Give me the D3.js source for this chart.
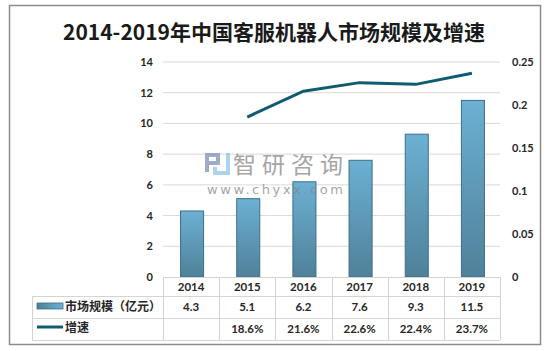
<!DOCTYPE html>
<html><head><meta charset="utf-8">
<script src="https://cdn.jsdelivr.net/npm/d3@7/dist/d3.min.js"></script>
<style>body{margin:0;background:#fff}svg{display:block}</style>
</head><body><svg id="c" width="549" height="351"></svg>
<script>
const categories = ["2014","2015","2016","2017","2018","2019"];
const marketSize = [4.3,5.1,6.2,7.6,9.3,11.5];
const growth = [null,0.186,0.216,0.226,0.224,0.237];
const growthLabels = ["","18.6%","21.6%","22.6%","22.4%","23.7%"];
const leftTicks = [0,2,4,6,8,10,12,14];
const rightTicks = [0,0.05,0.1,0.15,0.2,0.25];
const seriesNames = ["市场规模（亿元）","增速"];
const title = "2014-2019年中国客服机器人市场规模及增速";

const svg = d3.select("#c");
const F = "Lato, 'Noto Sans CJK SC', sans-serif";
const plotL = 163, plotR = 500, plotT = 62, plotB = 277;

const defs = svg.append("defs");
const g1 = defs.append("linearGradient").attr("id","bg").attr("x1",0).attr("y1",0).attr("x2",0).attr("y2",1);
g1.append("stop").attr("offset","0%").attr("stop-color","#6cb0d3");
g1.append("stop").attr("offset","100%").attr("stop-color","#4f8199");
const g2 = defs.append("linearGradient").attr("id","bgh").attr("x1",0).attr("y1",0).attr("x2",1).attr("y2",0);
g2.append("stop").attr("offset","0%").attr("stop-color","#4f8199");
g2.append("stop").attr("offset","100%").attr("stop-color","#6cb0d3");

// outer border
svg.append("rect").attr("x",9.5).attr("y",5.5).attr("width",531).attr("height",339)
  .attr("fill","#fff").attr("stroke","#8c8c8c").attr("stroke-width",1.5);

svg.append("text").attr("x",274).attr("y",40).attr("text-anchor","middle")
  .attr("font-family","'Noto Sans CJK SC', sans-serif").attr("font-weight","bold")
  .attr("font-size",21).attr("fill","#1a1a1a").text(title);

const x = d3.scaleBand().domain(categories).range([plotL,plotR]).padding(0);
const y = d3.scaleLinear().domain([0,14]).range([plotB,plotT]);
const y2 = d3.scaleLinear().domain([0,0.25]).range([plotB,plotT]);

// gridlines
svg.append("g").selectAll("line").data(leftTicks.filter(d=>d>0)).join("line")
  .attr("x1",plotL).attr("x2",plotR).attr("y1",d=>y(d)).attr("y2",d=>y(d))
  .attr("stroke","#d9d9d9").attr("stroke-width",1);

// left axis
const la = svg.append("g").attr("transform",`translate(${plotL},0)`)
  .call(d3.axisLeft(y).tickValues(leftTicks).tickSize(0).tickPadding(10));
la.select(".domain").remove();
la.selectAll("text").attr("font-family",F).attr("font-size",11).attr("font-weight","bold").attr("fill","#262626");

const ra = svg.append("g").attr("transform",`translate(${plotR},0)`)
  .call(d3.axisRight(y2).tickValues(rightTicks).tickSize(0).tickPadding(12).tickFormat(d=>String(+d.toFixed(2))));
ra.select(".domain").remove();
ra.selectAll("text").attr("font-family",F).attr("font-size",11).attr("font-weight","bold").attr("fill","#262626");

// bars
const bw = x.bandwidth()*0.41;
svg.append("g").selectAll("rect").data(marketSize).join("rect")
  .attr("x",(d,i)=>x(categories[i])+x.bandwidth()/2-bw/2+1)
  .attr("y",d=>y(d)).attr("width",bw).attr("height",d=>plotB-y(d))
  .attr("fill","url(#bg)").attr("stroke","#3d6e87").attr("stroke-width",1);

// watermark
const wm = svg.append("g").attr("opacity",0.75);
const ic = [
  [205,153,15,4,"#7f8fb8"],[216,153,4,12,"#7f8fb8"],[205,161,15,4,"#7f8fb8"],[205,153,4,19,"#7f8fb8"],
  [226,153,4,22,"#8ec6e8"],[213,171,17,4,"#8ec6e8"],[213,167,4,8,"#8ec6e8"]];
wm.selectAll("rect").data(ic).join("rect").attr("x",d=>d[0]).attr("y",d=>d[1]).attr("width",d=>d[2]).attr("height",d=>d[3]).attr("fill",d=>d[4]);
wm.append("text").attr("x",233).attr("y",173).attr("font-family","'Noto Sans CJK SC', sans-serif")
  .attr("font-size",23).attr("fill","#888").attr("textLength",110).text("智研咨询");
wm.append("text").attr("x",207).attr("y",194).attr("font-family","'DejaVu Sans', sans-serif")
  .attr("font-size",13).attr("fill","#888").attr("textLength",136).text("www.chyxx.com");

// line
const line = d3.line().defined(d=>d!=null).x((d,i)=>x(categories[i])+x.bandwidth()/2).y(d=>y2(d));
svg.append("path").datum(growth).attr("d",line).attr("fill","none")
  .attr("stroke","#0f5b6f").attr("stroke-width",3);

// table
const tl = 32, r1 = 277, r2 = 296, r3 = 318, r4 = 340;
const tc = "#d4d4d4";
const tg = svg.append("g").attr("stroke",tc).attr("stroke-width",1);
[r2,r3,r4].forEach(yy=>tg.append("line").attr("x1",tl).attr("x2",plotR).attr("y1",yy+0.5).attr("y2",yy+0.5));
tg.append("line").attr("x1",plotL).attr("x2",plotR).attr("y1",r1+0.5).attr("y2",r1+0.5);
tg.append("line").attr("x1",tl+0.5).attr("x2",tl+0.5).attr("y1",r2).attr("y2",r4);
const bounds = categories.map(c=>x(c)).concat([plotR]);
tg.selectAll("line.v").data(bounds).join("line").attr("class","v")
  .attr("x1",d=>Math.round(d)+0.5).attr("x2",d=>Math.round(d)+0.5).attr("y1",r1).attr("y2",r4);

const cx = c=>x(c)+x.bandwidth()/2;
svg.append("g").selectAll("text").data(categories).join("text")
  .attr("x",d=>cx(d)).attr("y",291).attr("text-anchor","middle").attr("font-family",F)
  .attr("font-size",11.5).attr("font-weight","bold").attr("fill","#262626").text(d=>d);
svg.append("g").selectAll("text").data(marketSize).join("text")
  .attr("x",(d,i)=>cx(categories[i])).attr("y",311).attr("text-anchor","middle").attr("font-family",F)
  .attr("font-size",11.5).attr("font-weight","bold").attr("fill","#262626").text(d=>d);
svg.append("g").selectAll("text").data(growthLabels).join("text")
  .attr("x",(d,i)=>cx(categories[i])).attr("y",333).attr("text-anchor","middle").attr("font-family",F)
  .attr("font-size",11.5).attr("font-weight","bold").attr("fill","#262626").text(d=>d);

// legend cells
svg.append("rect").attr("x",37).attr("y",303).attr("width",26).attr("height",6)
  .attr("fill","url(#bgh)").attr("stroke","#3d6e87").attr("stroke-width",0.8);
svg.append("line").attr("x1",37).attr("x2",63).attr("y1",327).attr("y2",327)
  .attr("stroke","#0f5b6f").attr("stroke-width",3);
svg.append("text").attr("x",65).attr("y",311).attr("font-family","'Noto Sans CJK SC', sans-serif")
  .attr("font-size",12).attr("font-weight","bold").attr("fill","#262626").text(seriesNames[0]);
svg.append("text").attr("x",65).attr("y",332).attr("font-family","'Noto Sans CJK SC', sans-serif")
  .attr("font-size",12).attr("font-weight","bold").attr("fill","#262626").text(seriesNames[1]);
</script></body></html>
